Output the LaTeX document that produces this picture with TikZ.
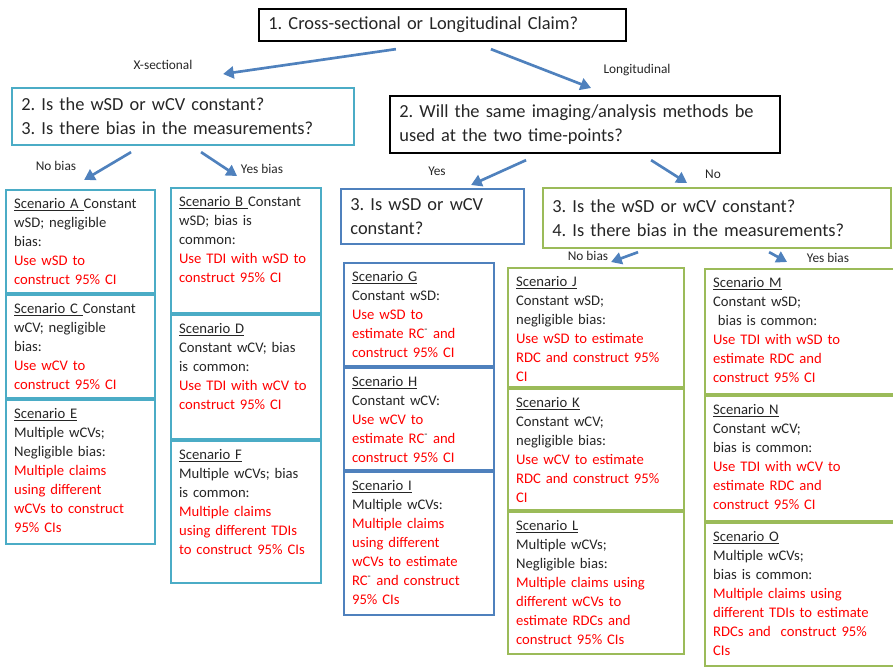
\documentclass[tikz,border=0pt]{standalone}
\usepackage{fontspec}
\setmainfont{Carlito}
\usepackage{xcolor}
\usepackage{tikz}
\usetikzlibrary{arrows.meta,positioning,calc}

\definecolor{aqua}{HTML}{4BACC6}
\definecolor{steel}{HTML}{4F81BD}
\definecolor{olive}{HTML}{9BBB59}
\definecolor{ink}{HTML}{262626}
\definecolor{hot}{HTML}{FF0000}

\newcommand{\cell}[2]{\parbox[c][#1][t]{\linewidth}{\raggedright #2}}
\newcommand{\scn}[1]{\underline{Scenario #1}}
\newcommand{\act}[1]{{\color{hot}#1}}
\newcommand{\rcm}{RC\textsuperscript{\color{ink}-}}
\frenchspacing

\begin{document}
\begin{tikzpicture}[
    x=0.75pt, y=-0.75pt,
    question/.style={rectangle, draw, line width=1.6pt, anchor=north west, inner xsep=7pt, inner ysep=0pt, align=left, text=ink, font=\fontsize{13.8}{18}\selectfont},
    scen/.style={rectangle, draw, line width=1.6pt, inner xsep=6pt, inner ysep=6pt, align=left, text=ink, font=\fontsize{11}{14.25}\selectfont},
    first/.style={scen, anchor=north west},
    stack/.style={scen, below=0pt of #1},
    arrow/.style={-{Triangle[length=8pt,width=9pt]}, line width=2pt, draw=steel},
    tag/.style={font=\fontsize{10}{12}\selectfont, text=ink},
]
\useasboundingbox (0,0) rectangle (893,669);

% Questions
\node[question, text width=261pt, minimum height=24pt] (claim) at (258,8) {1. Cross-sectional or Longitudinal Claim?};
\node[question, draw=aqua, text width=242.5pt, minimum height=42.75pt] (xsec) at (11,87) {2. Is the wSD or wCV constant?\\3. Is there bias in the measurements?};
\node[question, text width=278.5pt, minimum height=42.75pt] (longi) at (389,95) {2. Will the same imaging/analysis methods be\\used at the two time-points?};
\node[question, draw=steel, text width=123.25pt, minimum height=41.25pt] (same) at (340,188) {3. Is wSD or wCV\\constant?};
\node[question, draw=olive, text width=247pt, minimum height=45pt] (diff) at (542,187) {3. Is the wSD or wCV constant?\\4. Is there bias in the measurements?};

% X-sectional, no bias
\node[first, draw=aqua, text width=99.75pt] (scenA) at (5,189) {\cell{65.2pt}{\scn{A }Constant\\wSD; negligible\\bias:\\\act{Use wSD to\\construct 95\% CI}}};
\node[stack=scenA, draw=aqua, text width=99.75pt] (scenC) {\cell{65.2pt}{\scn{C }Constant\\wCV; negligible\\bias:\\\act{Use wCV to\\construct 95\% CI}}};
\node[stack=scenC, draw=aqua, text width=99.75pt] (scenE) {\cell{95.9pt}{\scn{E}\\Multiple wCVs;\\Negligible bias:\\\act{Multiple claims\\using different\\wCVs to construct\\95\% CIs}}};

% X-sectional, yes bias
\node[first, draw=aqua, text width=100.5pt] (scenB) at (170,187) {\cell{81.6pt}{\scn{B }Constant\\wSD; bias is\\common:\\\act{Use TDI with wSD to\\construct 95\% CI}}};
\node[stack=scenB, draw=aqua, text width=100.5pt] (scenD) {\cell{80.9pt}{\scn{D}\\Constant wCV; bias\\is common:\\\act{Use TDI with wCV to\\construct 95\% CI}}};
\node[stack=scenD, draw=aqua, text width=100.5pt] (scenF) {\cell{94.4pt}{\scn{F}\\Multiple wCVs; bias\\is common:\\\act{Multiple claims\\using different TDIs\\to construct 95\% CIs}}};

% Longitudinal, same methods
\node[first, draw=steel, text width=100.5pt] (scenG) at (343,262) {\cell{65.2pt}{\scn{G}\\Constant wSD:\\\act{Use wSD to\\estimate \rcm{} and\\construct 95\% CI}}};
\node[stack=scenG, draw=steel, text width=100.5pt] (scenH) {\cell{64.4pt}{\scn{H}\\Constant wCV:\\\act{Use wCV to\\estimate \rcm{} and\\construct 95\% CI}}};
\node[stack=scenH, draw=steel, text width=100.5pt] (scenI) {\cell{95.2pt}{\scn{I}\\Multiple wCVs:\\\act{Multiple claims\\using different\\wCVs to estimate\\\rcm{} and construct\\95\% CIs}}};

% Longitudinal, different methods, no bias
\node[first, draw=olive, text width=120pt] (scenJ) at (507,267) {\cell{77.2pt}{\scn{J}\\Constant wSD;\\negligible bias:\\\act{Use wSD to estimate\\RDC and construct 95\%\\CI}}};
\node[stack=scenJ, draw=olive, text width=120pt] (scenK) {\cell{78.7pt}{\scn{K}\\Constant wCV;\\negligible bias:\\\act{Use wCV to estimate\\RDC and construct 95\%\\CI}}};
\node[stack=scenK, draw=olive, text width=120pt] (scenL) {\cell{94.4pt}{\scn{L}\\Multiple wCVs;\\Negligible bias:\\\act{Multiple claims using\\different wCVs to\\estimate RDCs and\\construct 95\% CIs}}};

% Longitudinal, different methods, yes bias
\node[first, draw=olive, text width=130.5pt] (scenM) at (704,268) {\cell{81.6pt}{\scn{M}\\Constant wSD;\\\ bias is common:\\\act{Use TDI with wSD to\\estimate RDC and\\construct 95\% CI}}};
\node[stack=scenM, draw=olive, text width=130.5pt] (scenN) {\cell{81.6pt}{\scn{N}\\Constant wCV;\\bias is common:\\\act{Use TDI with wCV to\\estimate RDC and\\construct 95\% CI}}};
\node[stack=scenN, draw=olive, text width=130.5pt] (scenO) {\cell{95.2pt}{\scn{O}\\Multiple wCVs;\\bias is common:\\\act{Multiple claims using\\different TDIs to estimate\\RDCs and\ \ construct 95\%\\CIs}}};

% Labels
\node[tag] (lxsec) at (163,65) {X-sectional};
\node[tag] (llongi) at (637,70) {Longitudinal};
\node[tag] (lnob1) at (56,166) {No bias};
\node[tag] (lyesb1) at (262,169) {Yes bias};
\node[tag] (lyes) at (437,171) {Yes};
\node[tag] (lno) at (713,174) {No};
\node[tag] (lnob2) at (588,256) {No bias};
\node[tag] (lyesb2) at (828,258) {Yes bias};

% Arrows
\draw[arrow] ($(claim.south)+(-46.5,7)$) -- ($(xsec.north)+(40,-13)$);
\draw[arrow] ($(claim.south)+(48.5,7)$) -- ($(longi.north)+(6,-7)$);
\draw[arrow] ($(xsec.south)+(-52,6)$) -- ($(scenA.north)+(3.5,-9)$);
\draw[arrow] ($(xsec.south)+(18,6)$) -- ($(scenB.north)+(-9,-11)$);
\draw[arrow] ($(longi.south)+(-59,6)$) -- ($(same.north)+(38.5,-3)$);
\draw[arrow] ($(longi.south)+(66,6)$) -- ($(diff.north)+(-30,-4)$);
\draw[arrow] ($(diff.south)+(-79,3)$) -- ($(scenJ.north)+(15,-5)$);
\draw[arrow] ($(diff.south)+(52,3)$) -- ($(scenM.north)+(-13,-6)$);

\end{tikzpicture}
\end{document}
